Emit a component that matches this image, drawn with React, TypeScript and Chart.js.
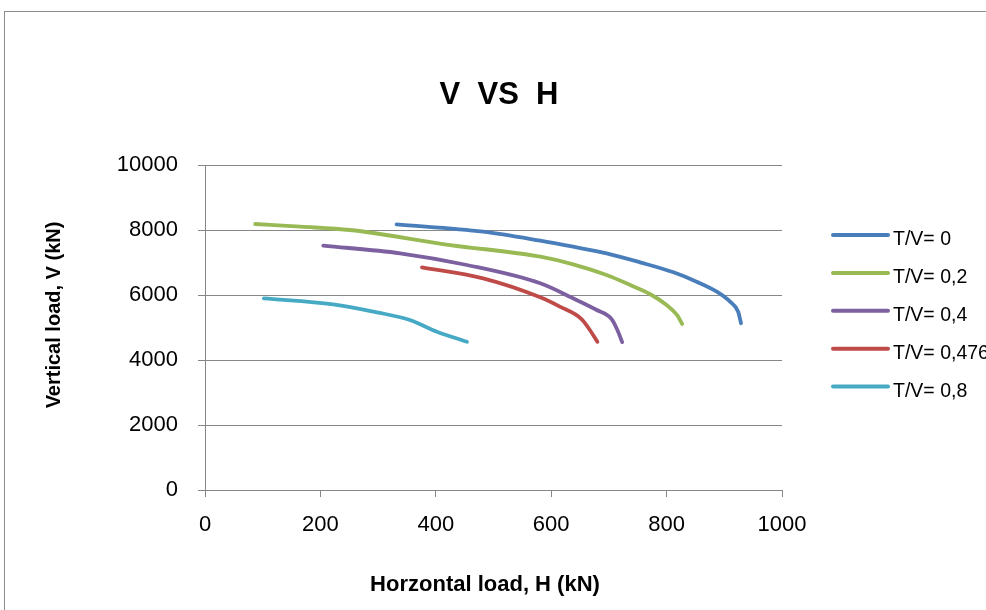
import React, { useEffect, useRef } from "react";
import { Chart, registerables } from "chart.js";

Chart.register(...registerables);

const chartTitle = "V  VS  H";
const xAxisTitle = "Horzontal load, H (kN)";
const yAxisTitle = "Vertical load, V (kN)";

const seriesNames = ["T/V= 0", "T/V= 0,2", "T/V= 0,4", "T/V= 0,476", "T/V= 0,8"];
const seriesColors = ["#4a7ebb", "#98b954", "#7d60a0", "#be4b48", "#46aac5"];

const h0 = [332, 482, 581, 638, 696, 754, 812, 852, 887, 910, 924, 929];
const v0 = [8175, 7949, 7671, 7486, 7283, 7006, 6698, 6409, 6102, 5794, 5486, 5130];

const h02 = [87, 165, 251, 425, 581, 638, 696, 737, 771, 800, 818, 827];
const v02 = [8185, 8103, 8000, 7538, 7178, 6944, 6615, 6308, 6031, 5692, 5385, 5110];

const h04 = [205, 338, 454, 581, 638, 679, 705, 716, 723];
const v04 = [7518, 7282, 6923, 6360, 5898, 5538, 5252, 4871, 4550];

const h0476 = [376, 482, 581, 615, 653, 667, 680];
const v0476 = [6852, 6513, 5929, 5641, 5252, 4923, 4560];

const h08 = [102, 222, 298, 355, 402, 454];
const v08 = [5897, 5713, 5467, 5231, 4872, 4560];

const xTickValues = [0, 200, 400, 600, 800, 1000];
const yTickValues = [0, 2000, 4000, 6000, 8000, 10000];

const seriesH = [h0, h02, h04, h0476, h08];
const seriesV = [v0, v02, v04, v0476, v08];

const FONT = "'Liberation Sans', Arial, sans-serif";
const GRID = "#878787";

const decorPlugin = {
  id: "decor",
  afterDraw(chart: any) {
    const ctx = chart.ctx;
    const area = chart.chartArea;
    ctx.save();
    ctx.fillStyle = "#000";
    ctx.font = `bold 31px ${FONT}`;
    ctx.textAlign = "center";
    ctx.textBaseline = "alphabetic";
    ctx.fillText(chartTitle, 499, 104);
    ctx.font = `bold 22px ${FONT}`;
    ctx.textBaseline = "middle";
    ctx.fillText(xAxisTitle, 485, 585);
    ctx.save();
    ctx.translate(54, 315);
    ctx.rotate(-Math.PI / 2);
    ctx.font = `bold 20px ${FONT}`;
    ctx.fillText(yAxisTitle, 0, 0);
    ctx.restore();
    const lx0 = area.right + 51;
    const lx1 = area.right + 106;
    seriesNames.forEach((name, i) => {
      const y = 235 + i * 37.9;
      ctx.strokeStyle = seriesColors[i];
      ctx.lineWidth = 4;
      ctx.lineCap = "round";
      ctx.beginPath();
      ctx.moveTo(lx0, y);
      ctx.lineTo(lx1, y);
      ctx.stroke();
      ctx.fillStyle = "#000";
      ctx.font = `19.5px ${FONT}`;
      ctx.textAlign = "left";
      ctx.textBaseline = "alphabetic";
      ctx.fillText(name, lx1 + 5, y + 10);
    });
    ctx.restore();
  },
};

export default function App() {
  const ref = useRef<HTMLCanvasElement | null>(null);

  useEffect(() => {
    if (!ref.current) return;
    const datasets = seriesNames.map((name, i) => ({
      label: name,
      data: seriesH[i].map((h, j) => ({ x: h, y: seriesV[i][j] })),
      borderColor: seriesColors[i],
      backgroundColor: seriesColors[i],
      borderWidth: 3.8,
      borderCapStyle: "round" as const,
      borderJoinStyle: "round" as const,
      showLine: true,
      pointRadius: 0,
      pointHoverRadius: 0,
      cubicInterpolationMode: "monotone" as const,
      fill: false,
    }));
    const chart = new Chart(ref.current, {
      type: "scatter",
      data: { datasets },
      options: {
        responsive: false,
        maintainAspectRatio: false,
        devicePixelRatio: 1,
        animation: false,
        layout: { padding: { left: 0, top: 165, right: 204, bottom: 0 } },
        plugins: {
          legend: { display: false },
          title: { display: false },
          tooltip: { enabled: false },
        },
        scales: {
          x: {
            type: "linear",
            min: 0,
            max: 1000,
            afterFit: (s: any) => {
              s.height = 120;
            },
            afterBuildTicks: (s: any) => {
              s.ticks = xTickValues.map((v) => ({ value: v }));
            },
            ticks: {
              callback: (v: any) => String(v),
              color: "#000",
              font: { family: FONT, size: 22 },
              padding: 15,
              maxRotation: 0,
            },
            grid: {
              drawOnChartArea: false,
              drawTicks: true,
              tickLength: 7,
              color: GRID,
              lineWidth: 1,
            },
            border: { display: true, color: GRID, width: 1 },
          },
          y: {
            type: "linear",
            min: 0,
            max: 10000,
            afterFit: (s: any) => {
              s.width = 205;
            },
            afterBuildTicks: (s: any) => {
              s.ticks = yTickValues.map((v) => ({ value: v }));
            },
            ticks: {
              callback: (v: any) => String(v),
              color: "#000",
              font: { family: FONT, size: 22 },
              padding: 20,
            },
            grid: {
              drawOnChartArea: true,
              drawTicks: true,
              tickLength: 7,
              color: GRID,
              lineWidth: 1,
            },
            border: { display: true, color: GRID, width: 1 },
          },
        },
      },
      plugins: [decorPlugin],
    });
    return () => chart.destroy();
  }, []);

  return (
    <div
      style={{
        position: "fixed",
        left: 0,
        top: 0,
        width: 986,
        height: 610,
        overflow: "hidden",
        background: "#fff",
      }}
    >
      <div
        style={{
          position: "absolute",
          left: 4,
          top: 11,
          width: 1200,
          height: 1000,
          border: "1px solid #8c8c8c",
        }}
      />
      <canvas
        ref={ref}
        width={986}
        height={610}
        style={{ position: "absolute", left: 0, top: 0, display: "block" }}
      />
    </div>
  );
}
